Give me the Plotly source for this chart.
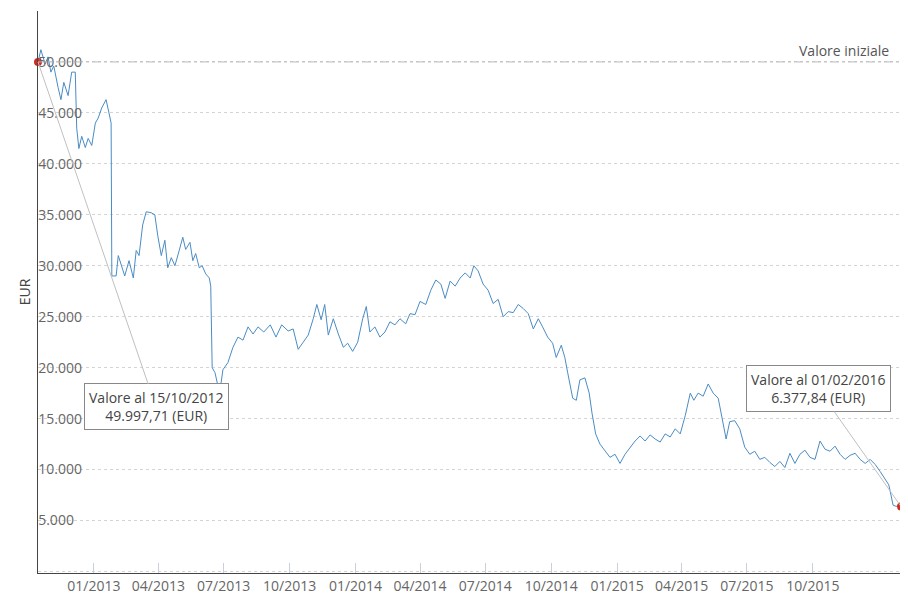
import plotly.graph_objects as go
import pandas as pd

start_date = "2012-10-15"
day_offsets = [0,4,10,14,18,22,28,32,36,42,47,52,54,57,61,66,70,75,80,84,89,95,99,102,103,109,112,116,121,127,133,137,141,146,151,158,163,167,172,177,181,186,191,197,202,206,212,216,220,225,229,234,239,241,243,247,251,254,258,265,272,279,286,293,300,307,315,324,332,340,349,356,363,370,377,384,389,395,400,405,412,419,426,432,439,446,453,458,463,470,477,484,491,498,505,513,519,526,533,541,548,555,562,568,575,582,589,596,603,608,614,621,628,635,642,649,656,663,670,677,684,691,698,704,711,718,723,730,735,739,746,751,756,763,769,773,778,784,791,798,805,812,819,826,833,840,847,854,861,868,875,882,889,896,903,910,915,921,928,935,942,949,954,960,965,972,979,986,993,1000,1007,1014,1021,1028,1035,1042,1049,1056,1063,1070,1077,1084,1091,1098,1105,1112,1119,1126,1133,1140,1147,1154,1161,1168,1175,1182,1187,1193,1197,1204]
values = [49997.71,51200,49800,50500,49000,49600,47500,46300,48000,46700,49000,49000,43500,41500,42700,41600,42500,41800,44000,44500,45500,46300,45000,44000,29000,29000,31000,30000,29000,30500,28800,31500,31000,34000,35300,35200,35000,33000,31000,32500,29800,30800,30000,31500,32800,31600,32300,30500,31200,29800,30000,29200,28800,28000,20000,19500,18200,17800,19800,20500,22000,23000,22700,24000,23300,24000,23500,24200,23000,24200,23600,23800,21800,22500,23200,24800,26200,24700,26200,23200,24800,23300,22000,22400,21600,22500,24800,26000,23500,24000,23000,23500,24500,24200,24800,24300,25300,25200,26500,26200,27600,28600,28200,26800,28500,28000,28800,29300,28800,30000,29500,28200,27600,26300,26700,25000,25500,25400,26200,25800,25300,23800,24800,24000,23000,22400,21000,22200,21000,19500,17000,16800,18800,19000,17500,15500,13500,12500,11800,11200,11500,10600,11500,12200,12800,13300,12800,13400,13000,12700,13500,13200,14000,13500,15300,17500,16800,17500,17200,18400,17500,17000,15000,13000,14700,14800,14000,12200,11500,11800,11000,11200,10700,10300,10800,10200,11600,10600,11500,11900,11200,11000,12800,12000,11800,12300,11500,11000,11400,11600,11000,10600,11000,10500,9800,9000,8500,6500,6400,6377.84]
initial_value = 50000
start_label = "Valore al 15/10/2012<br>49.997,71 (EUR)"
end_label = "Valore al 01/02/2016<br>6.377,84 (EUR)"
tick_dates = ["2013-01-01","2013-04-01","2013-07-01","2013-10-01","2014-01-01","2014-04-01","2014-07-01","2014-10-01","2015-01-01","2015-04-01","2015-07-01","2015-10-01"]
tick_labels = ["01/2013","04/2013","07/2013","10/2013","01/2014","04/2014","07/2014","10/2014","01/2015","04/2015","07/2015","10/2015"]

dates = pd.to_datetime(start_date) + pd.to_timedelta(day_offsets, unit="D")

fig = go.Figure()
fig.add_trace(go.Scatter(x=dates, y=values, mode="lines",
                         line=dict(color="#4a8cc4", width=1), hoverinfo="skip", cliponaxis=False))
fig.add_trace(go.Scatter(x=[dates[0], dates[-1]], y=[values[0], values[-1]], mode="markers",
                         marker=dict(color="#d42a1e", size=8), hoverinfo="skip", cliponaxis=False))
fig.add_hline(y=initial_value, line=dict(color="#bbbbbb", width=1, dash="dashdot"))
fig.add_annotation(x=1, xref="paper", y=initial_value, yref="y", text="Valore iniziale",
                   showarrow=False, xanchor="right", yanchor="bottom", xshift=-10,
                   font=dict(size=14, color="#555"))
box = dict(showarrow=True, arrowhead=0, arrowcolor="#c0c0c0", arrowwidth=1,
           bgcolor="white", bordercolor="#888", borderwidth=1, borderpad=4,
           font=dict(size=14, color="#444"))
fig.add_annotation(x=dates[0], y=values[0], text=start_label, ax=118, ay=345, **box)
fig.add_annotation(x=dates[-1], y=values[-1], text=end_label, ax=-83, ay=-118, **box)

fig.update_layout(
    width=908, height=609, margin=dict(l=30, r=15, t=3, b=44),
    plot_bgcolor="white", paper_bgcolor="white", showlegend=False,
    separators=",.", font=dict(family="Open Sans", size=14, color="#666"),
)
fig.update_xaxes(range=[dates[0], dates[-1]], tickvals=pd.to_datetime(tick_dates), ticktext=tick_labels,
                 showgrid=False, showline=True, linecolor="#444", ticks="inside",
                 ticklen=10, tickcolor="#c8d0dc", tickfont=dict(size=14, color="#666"))
fig.update_yaxes(range=[-150, 55000], tickvals=[0,5000,10000,15000,20000,25000,30000,35000,40000,45000,50000,55000],
                 tickformat=",d", showgrid=True,
                 gridcolor="#d4d4d4", griddash="dot", showline=True, linecolor="#444",
                 ticklabelposition="inside", zeroline=False, automargin=False,
                 title=dict(text="EUR", font=dict(size=14, color="#444"), standoff=4),
                 tickfont=dict(size=14, color="#666"))
fig.write_html("out.html")
